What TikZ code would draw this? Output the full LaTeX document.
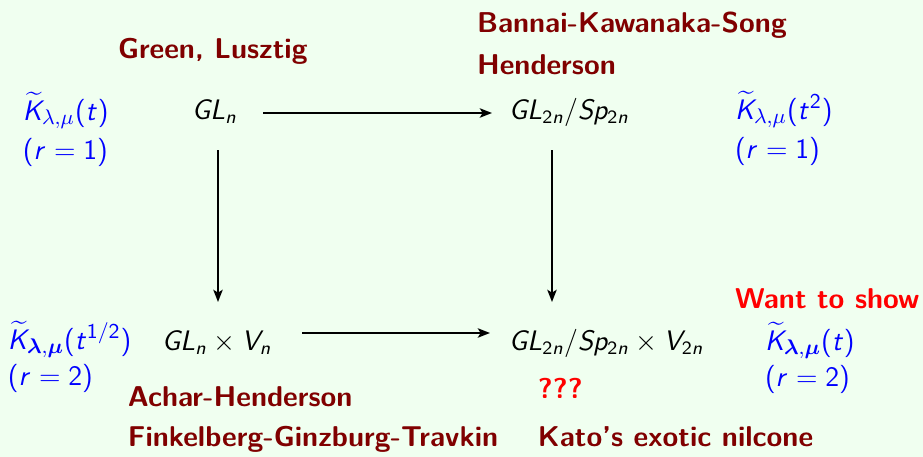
\documentclass[tikz,border=0pt]{standalone}
\usepackage{amsmath}
\usetikzlibrary{arrows.meta,calc}
\DeclareSymbolFont{sfup}{OT1}{cmss}{m}{n}
\DeclareSymbolFont{sfsl}{OT1}{cmss}{m}{sl}
\DeclareMathSymbol{G}{\mathalpha}{sfsl}{`G}
\DeclareMathSymbol{L}{\mathalpha}{sfsl}{`L}
\DeclareMathSymbol{S}{\mathalpha}{sfsl}{`S}
\DeclareMathSymbol{V}{\mathalpha}{sfsl}{`V}
\DeclareMathSymbol{K}{\mathalpha}{sfsl}{`K}
\DeclareMathSymbol{n}{\mathalpha}{sfsl}{`n}
\DeclareMathSymbol{p}{\mathalpha}{sfsl}{`p}
\DeclareMathSymbol{t}{\mathalpha}{sfsl}{`t}
\DeclareMathSymbol{r}{\mathalpha}{sfsl}{`r}
\DeclareMathSymbol{1}{\mathalpha}{sfup}{`1}
\DeclareMathSymbol{2}{\mathalpha}{sfup}{`2}
\DeclareMathSymbol{(}{\mathopen}{sfup}{`(}
\DeclareMathSymbol{)}{\mathclose}{sfup}{`)}
\DeclareMathSymbol{/}{\mathord}{sfup}{`/}
\definecolor{bgmint}{rgb}{0.94,1,0.94}
\definecolor{dred}{rgb}{0.5,0,0}
\definecolor{kblue}{rgb}{0,0,1}
\definecolor{wred}{rgb}{1,0,0}
\tikzset{
  txt/.style={anchor=base west,inner sep=0pt,outer sep=0pt},
  space/.style={txt,font=\fontsize{12.1}{14}\selectfont},
  poly/.style={txt,text=kblue,font=\fontsize{12.4}{15}\selectfont},
  who/.style={txt,text=dred,font=\fontsize{12.2}{15}\selectfont\sffamily\bfseries},
  alert/.style={txt,text=wred,font=\fontsize{12.2}{15}\selectfont\sffamily\bfseries},
  arr/.style={line width=0.8pt,-{Stealth[length=5.2pt,width=4pt,inset=1.2pt]}}
}
\begin{document}
\begin{tikzpicture}[x=0.4255pt,y=-0.4255pt]
\fill[bgmint] (0,0) rectangle (923,457);
\useasboundingbox (0,0) rectangle (923,457);
% spaces
\node[space] (gla) at (192,119) {$GL_n$};
\node[space] (glb) at (509,119) {$GL_{2n}/Sp_{2n}$};
\node[space] (glc) at (162,350) {$GL_n\times V_n$};
\node[space] (gld) at (509,350) {$GL_{2n}/Sp_{2n}\times V_{2n}$};
% polynomials
\node[poly] (ka) at (23,120) {$\widetilde{K}_{\lambda,\mu}(t)$};
\node[poly] (ra) at (23,159) {$(r=1)$};
\node[poly] (kb) at (735,119) {$\widetilde{K}_{\lambda,\mu}(t^2)$};
\node[poly] (rb) at (735,158) {$(r=1)$};
\node[poly] (kc) at (8,349) {$\widetilde{K}_{\boldsymbol{\lambda},\boldsymbol{\mu}}(t^{1/2})$};
\node[poly] (rc) at (8,385) {$(r=2)$};
\node[poly] (kd) at (765,350) {$\widetilde{K}_{\boldsymbol{\lambda},\boldsymbol{\mu}}(t)$};
\node[poly] (rd) at (765,386) {$(r=2)$};
% names
\node[who] (green) at (118,59) {Green, Lusztig};
\node[who] (bks) at (477,33) {Bannai-Kawanaka-Song};
\node[who] (hen) at (477,75) {Henderson};
\node[who] (ach) at (128,407) {Achar-Henderson};
\node[who] (fgt) at (128,447) {Finkelberg-Ginzburg-Travkin};
\node[who] (kato) at (538,447) {Kato's exotic nilcone};
\node[alert] (want) at (735,308) {Want to show};
\node[alert] (qqq) at (538,398) {???};
% arrows
\draw[arr] ($(gla.base west)+(71,-6)$) -- ($(glb.base west)+(-17,-6)$);
\draw[arr] ($(glc.base west)+(140,-17)$) -- ($(gld.base west)+(-19,-17)$);
\draw[arr] ($(gla.base west)+(26,31)$) -- ($(glc.base west)+(56,-48)$);
\draw[arr] ($(glb.base west)+(43,31)$) -- ($(gld.base west)+(43,-48)$);
\end{tikzpicture}
\end{document}
